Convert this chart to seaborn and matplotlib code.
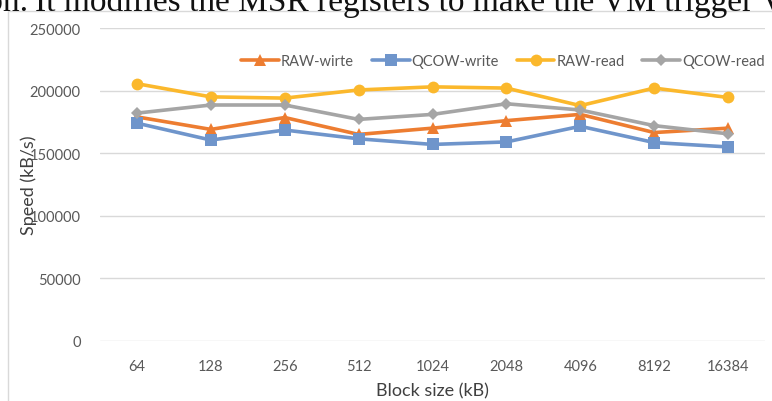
import matplotlib
matplotlib.use("Agg")
import matplotlib.pyplot as plt
import seaborn as sns
import pandas as pd
from matplotlib.patches import Rectangle

block_sizes = ["64", "128", "256", "512", "1024", "2048", "4096", "8192", "16384"]
raw_write = [179000, 169000, 178500, 165000, 170000, 176000, 181000, 166500, 170000]
qcow_write = [174000, 160500, 168500, 161500, 157000, 159000, 171500, 158500, 155000]
raw_read = [205500, 195000, 194000, 200500, 203000, 202000, 188000, 202000, 194500]
qcow_read = [182000, 188500, 188500, 177000, 181000, 189500, 184500, 172000, 165500]

series_names = ["RAW-wirte", "QCOW-write", "RAW-read", "QCOW-read"]
series_values = [raw_write, qcow_write, raw_read, qcow_read]
colors = ["#ED7D31", "#6F95CB", "#FBB82C", "#A5A5A5"]
markers = ["^", "s", "o", "D"]

rows = []
for name, vals in zip(series_names, series_values):
    for b, v in zip(block_sizes, vals):
        rows.append({"Block size (kB)": b, "Speed (kB/s)": v, "series": name})
df = pd.DataFrame(rows)

sns.set_theme(style="white")
plt.rcParams["font.family"] = ["Lato", "DejaVu Sans"]

W, H = 772, 402
fig = plt.figure(figsize=(W / 100, H / 100), dpi=100)
ax = fig.add_axes([100 / W, 1 - 342 / H, (765 - 100) / W, (342 - 29) / H])

sns.lineplot(
    data=df, x="Block size (kB)", y="Speed (kB/s)", hue="series", style="series",
    hue_order=series_names, style_order=series_names,
    palette=dict(zip(series_names, colors)),
    markers=dict(zip(series_names, markers)), dashes=False,
    linewidth=2.6, markersize=8.5, markeredgewidth=0, sort=False, ax=ax,
)
for line in ax.get_lines():
    if line.get_marker() == "D":
        line.set_markersize(6.5)

ax.set_ylim(0, 250000)
ax.set_xlim(-0.5, len(block_sizes) - 0.5)
ax.set_yticks([0, 50000, 100000, 150000, 200000, 250000])
ax.grid(axis="y", color="#D9D9D9", linewidth=1)
ax.grid(axis="x", visible=False)
ax.set_axisbelow(True)
for s in ax.spines.values():
    s.set_visible(False)
ax.tick_params(axis="both", length=0, labelsize=10.5, colors="#595959")
ax.tick_params(axis="y", pad=14)
ax.tick_params(axis="x", pad=13)
ax.set_xlabel("Block size (kB)", fontsize=13, color="#404040", labelpad=7)
ax.set_ylabel("Speed (kB/s)", fontsize=13, color="#404040")
ax.yaxis.set_label_coords(-0.095, 0.5)

handles, labels = ax.get_legend_handles_labels()
for h in handles:
    if h.get_marker() == "D":
        h.set_markersize(6.5)
ax.legend(handles, labels, ncol=4, frameon=False, loc="center left",
          bbox_to_anchor=(241 / W, 1 - 62 / H), bbox_transform=fig.transFigure,
          fontsize=10.5, labelcolor="#595959", handlelength=2.6, handletextpad=0.15,
          columnspacing=1.2, borderaxespad=0, borderpad=0)

# chart border (clipped by image edges)
fig.patches.append(Rectangle((8 / W, -0.05), 1.05, 1 - 12 / H + 0.05,
                             transform=fig.transFigure, fill=False,
                             edgecolor="#D9D9D9", linewidth=1))

# clipped body text above the chart
serif = ["Liberation Serif", "DejaVu Serif"]
fig.text(29 / W, 1 - 10.5 / H, "comparison.", family=serif, fontsize=24,
         color="#111111", va="baseline", ha="right")
fig.text(35 / W, 1 - 10.5 / H, "It modifies the MSR registers to make the VM trigger VM exits",
         family=serif, fontsize=24, color="#111111", va="baseline", ha="left")

fig.savefig("out.png", dpi=100)
